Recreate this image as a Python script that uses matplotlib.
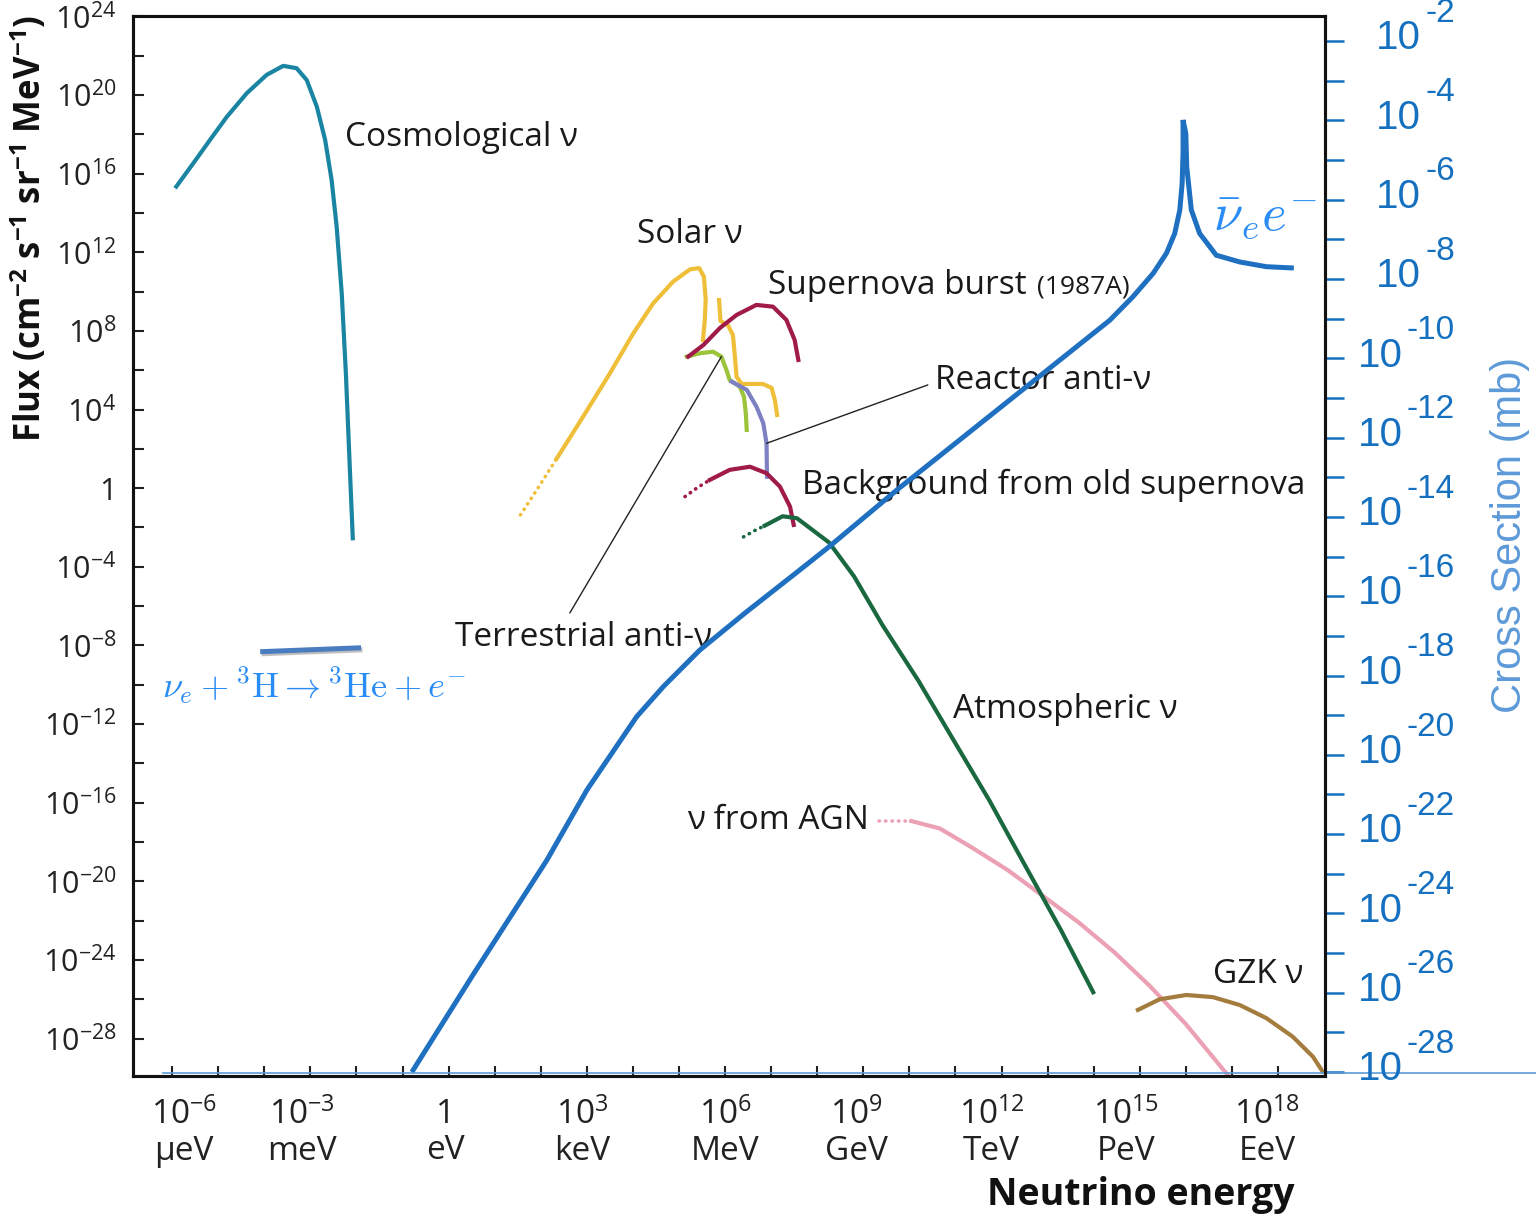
import numpy as np
import matplotlib.pyplot as plt
from matplotlib.ticker import NullLocator
from matplotlib.transforms import blended_transform_factory, ScaledTranslation
import matplotlib.patheffects as pe

plt.rcParams['font.family'] = ['Open Sans', 'DejaVu Sans']
plt.rcParams['mathtext.fontset'] = 'custom'
plt.rcParams['mathtext.rm'] = 'Open Sans'
plt.rcParams['mathtext.it'] = 'Open Sans:italic'
plt.rcParams['mathtext.bf'] = 'Open Sans:bold'

# energias en log10(eV), flujos en log10(cm^-2 s^-1 sr^-1 MeV^-1)
cosmo_logE = [-5.91, -5.54, -5.18, -4.81, -4.38, -3.95, -3.59, -3.30, -3.08, -2.86,
              -2.68, -2.54, -2.43, -2.32, -2.23, -2.14, -2.08]
cosmo_logF = [15.34, 16.53, 17.71, 18.90, 20.09, 21.02, 21.48, 21.36, 20.76, 19.40,
              17.71, 15.68, 13.30, 9.91, 5.84, 0.77, -2.55]

solar_dot_logE = [1.56, 1.94, 2.35]
solar_dot_logF = [-1.36, 0.01, 1.52]
solar_logE = [2.35, 2.92, 3.50, 4.01, 4.44, 4.87, 5.24, 5.44, 5.54, 5.58, 5.56, 5.52]
solar_logF = [1.52, 3.64, 5.84, 7.88, 9.40, 10.50, 11.13, 11.19, 10.76, 9.57, 8.56, 7.54]
solar_b8_logE = [5.87, 5.90, 6.06, 6.17, 6.21, 6.25, 6.36, 6.82, 7.01, 7.08, 7.13]
solar_b8_logF = [9.57, 8.50, 8.30, 7.79, 6.78, 5.66, 5.30, 5.30, 5.10, 4.49, 3.72]

sn_logE = [5.20, 5.53, 5.89, 6.25, 6.68, 7.04, 7.33, 7.51, 7.59]
sn_logF = [6.69, 7.28, 8.15, 8.81, 9.32, 9.23, 8.56, 7.54, 6.52]

terr_logE = [5.17, 5.45, 5.74, 5.92, 6.03, 6.10, 6.32, 6.41, 6.45, 6.47]
terr_logF = [6.69, 6.86, 6.94, 6.69, 6.01, 5.50, 5.16, 4.65, 3.81, 2.96]

reac_logE = [6.14, 6.47, 6.68, 6.83, 6.90, 6.91]
reac_logF = [5.42, 5.00, 4.15, 3.30, 2.28, 0.58]

oldsn_dot_logE = [5.13, 5.39, 5.67]
oldsn_dot_logF = [-0.43, 0.01, 0.42]
oldsn_logE = [5.67, 6.10, 6.54, 6.90, 7.19, 7.41, 7.49]
oldsn_logF = [0.42, 0.93, 1.09, 0.76, 0.08, -0.94, -1.87]

atm_dot_logE = [6.40, 6.65, 6.86]
atm_dot_logF = [-2.48, -2.15, -1.91]
atm_logE = [6.86, 7.25, 7.56, 8.26, 8.80, 9.42, 10.20, 10.97, 11.74, 12.52, 13.29, 13.99]
atm_logF = [-1.91, -1.43, -1.53, -2.77, -4.49, -6.98, -9.81, -12.86, -15.90, -19.23,
            -22.48, -25.64]

agn_dot_logE = [9.34, 9.68, 10.04]
agn_dot_logF = [-16.93, -16.93, -16.93]
agn_logE = [10.04, 10.66, 11.35, 12.13, 12.91, 13.68, 14.46, 15.23, 16.00, 16.94]
agn_logF = [-16.93, -17.31, -18.27, -19.42, -20.76, -22.10, -23.63, -25.35, -27.26, -29.94]

gzk_logE = [14.96, 15.43, 16.01, 16.59, 17.17, 17.75, 18.32, 18.76, 18.97]
gzk_logF = [-26.54, -26.00, -25.78, -25.89, -26.29, -26.96, -27.90, -28.92, -29.68]

# seccion eficaz en log10(mb)
xs_logE = [-0.77, 0.55, 2.13, 3.00, 4.08, 4.66, 5.45, 6.47, 7.62, 8.26, 9.73, 14.35,
           14.85, 15.29, 15.58, 15.76, 15.87, 15.92, 15.94, 15.94, 16.00, 16.02, 16.12,
           16.30, 16.66, 17.17, 17.75, 18.29]
xs_logS = [-27.95, -25.51, -22.66, -20.89, -19.04, -18.28, -17.36, -16.39, -15.34,
           -14.75, -13.32, -9.04, -8.45, -7.86, -7.35, -6.85, -6.26, -5.59, -4.83,
           -3.99, -4.33, -5.17, -6.26, -6.85, -7.40, -7.57, -7.69, -7.72]
tritium_logE = [-4.09, -1.90]
tritium_logS = [-17.40, -17.30]

x_tick_exp = list(range(-6, 19))
x_label_exp = [-6, -3, 0, 3, 6, 9, 12, 15, 18]
x_units = ['μeV', 'meV', 'eV', 'keV', 'MeV', 'GeV', 'TeV', 'PeV', 'EeV']
y_tick_exp = list(range(-28, 25, 2))
xs_tick_exp = list(range(-28, -1))
xs_label_exp = list(range(-2, -29, -2))


def p10(v):
    return np.power(10.0, v)


fig = plt.figure(figsize=(15.36, 12.18), dpi=100)
ax = fig.add_axes([0.0866, 0.1166, 0.7760, 0.8705])
ax.set_xscale('log')
ax.set_yscale('log')
ax.set_xlim(p10(-6.85), p10(19.02))
ax.set_ylim(p10(-29.9), p10(24.03))

lw = 3.0
dots = dict(ls=(0, (0.1, 1.7)), lw=2.6, dash_capstyle='round')

ax.plot(p10(cosmo_logE), p10(cosmo_logF), color='#1a85a2', lw=lw)
ax.plot(p10(solar_dot_logE), p10(solar_dot_logF), color='#efbf3a', **dots)
ax.plot(p10(solar_logE), p10(solar_logF), color='#efbf3a', lw=lw)
ax.plot(p10(solar_b8_logE), p10(solar_b8_logF), color='#efbf3a', lw=lw)
ax.plot(p10(terr_logE), p10(terr_logF), color='#9bc43a', lw=lw)
ax.plot(p10(sn_logE), p10(sn_logF), color='#a01a4a', lw=lw)
ax.plot(p10(reac_logE), p10(reac_logF), color='#7d80c2', lw=lw)
ax.plot(p10(oldsn_dot_logE), p10(oldsn_dot_logF), color='#a01a4a', **dots)
ax.plot(p10(oldsn_logE), p10(oldsn_logF), color='#a01a4a', lw=lw)
ax.plot(p10(agn_dot_logE), p10(agn_dot_logF), color='#eca0b4', **dots)
ax.plot(p10(agn_logE), p10(agn_logF), color='#eca0b4', lw=lw)
ax.plot(p10(atm_dot_logE), p10(atm_dot_logF), color='#1a6840', **dots)
ax.plot(p10(atm_logE), p10(atm_logF), color='#1a6840', lw=lw)
ax.plot(p10(gzk_logE), p10(gzk_logF), color='#a47d3e', lw=lw)

# lineas de referencia hacia las curvas de antineutrinos
ax.annotate('', xy=(p10(reac_logE[4]), p10(reac_logF[4])), xytext=(p10(10.40), p10(5.25)),
            arrowprops=dict(arrowstyle='-', color='#222222', lw=1.0, shrinkA=0, shrinkB=0))
ax.annotate('', xy=(p10(terr_logE[3]), p10(terr_logF[3])), xytext=(p10(2.63), p10(-6.35)),
            arrowprops=dict(arrowstyle='-', color='#222222', lw=1.0, shrinkA=0, shrinkB=0))

labels = [
    (0.1779, 0.8847, 'Cosmological ν', 24),
    (0.4228, 0.7932, 'Solar ν', 24),
    (0.5327, 0.7460, 'Supernova burst', 24),
    (0.7584, 0.7441, '(1987A)', 19),
    (0.6728, 0.6564, 'Reactor anti-ν', 24),
    (0.5612, 0.5574, 'Background from old supernova', 24),
    (0.2701, 0.4131, 'Terrestrial anti-ν', 24),
    (0.6879, 0.3452, 'Atmospheric ν', 24),
    (0.4648, 0.2414, 'ν from AGN', 24),
    (0.9060, 0.0953, 'GZK ν', 24),
]
for lx, ly, txt, fs in labels:
    ax.text(lx, ly, txt, transform=ax.transAxes, ha='left', va='center',
            fontsize=fs, color='#1a1a1a')

ax.set_xticks([p10(e) for e in x_tick_exp])
ax.set_xticklabels([('1' if e == 0 else '10$^{%d}$' % e) + '\n' + x_units[x_label_exp.index(e)]
                    if e in x_label_exp else '' for e in x_tick_exp])
ax.set_yticks([p10(e) for e in y_tick_exp])
ax.set_yticklabels([('1' if e == 0 else '10$^{%d}$' % e) if e % 4 == 0 else ''
                    for e in y_tick_exp])
ax.xaxis.set_minor_locator(NullLocator())
ax.yaxis.set_minor_locator(NullLocator())
ax.tick_params(axis='x', direction='in', length=7.5, width=1.5, pad=16,
               labelsize=24, colors='#222222')
ax.tick_params(axis='y', direction='in', length=8, width=1.5, pad=12,
               labelsize=22, colors='#222222')
# pequeños desplazamientos horizontales de las etiquetas de energia (px)
x_label_shift = [12, -8, -3, -5, 0, -7, -10, -14, -11]
for e, lab in zip(x_tick_exp, ax.get_xticklabels()):
    lab.set_linespacing(1.12)
    if e in x_label_exp:
        dx = x_label_shift[x_label_exp.index(e)] / fig.dpi
        lab.set_transform(lab.get_transform() + ScaledTranslation(dx, 0, fig.dpi_scale_trans))
for sp in ax.spines.values():
    sp.set_linewidth(2.2)
    sp.set_color('#111111')

# eje derecho: seccion eficaz
ax2 = ax.twinx()
ax2.set_yscale('log')
ax2.set_ylim(p10(-28.1), p10(-1.36))
for sp in ax2.spines.values():
    sp.set_linewidth(2.2)
    sp.set_color('#111111')
ax2.set_yticks([p10(e) for e in xs_tick_exp])
ax2.set_yticklabels(['' for e in xs_tick_exp])
ax2.yaxis.set_minor_locator(NullLocator())
ax2.tick_params(axis='y', direction='out', length=14, width=1.8, colors='#1570c0')

blue = '#1f70c1'
ax2.plot(p10(xs_logE), p10(xs_logS), color=blue, lw=3.6, solid_joinstyle='miter')
ax2.plot(p10(tritium_logE), p10(tritium_logS), color='#4a7cc0', lw=3.6,
         solid_capstyle='butt',
         path_effects=[pe.SimpleLineShadow(offset=(1, -1.5), alpha=0.25), pe.Normal()])

ax2.text(0.0243, 0.3678, r'$\nu_e + {}^3\mathrm{H} \rightarrow {}^3\mathrm{He} + e^{-}$',
         transform=ax2.transAxes, ha='left', va='center', fontsize=26,
         color='#2a8cf5', math_fontfamily='cm')
ax2.text(0.9060, 0.8111, r'$\bar{\nu}_e e^{-}$', transform=ax2.transAxes,
         ha='left', va='center', fontsize=38, color='#2a8cf5', math_fontfamily='cm')

tick_tr = blended_transform_factory(ax2.transAxes, ax2.transData)
for e in xs_label_exp:
    ex = ax2.annotate('%d' % e, xy=(1.109, p10(e)), xycoords=tick_tr,
                      xytext=(0, 20), textcoords='offset points', ha='right', va='center',
                      fontsize=24, color='#1570c0', family='Liberation Sans')
    ax2.annotate('10', xy=(0, 0.5), xycoords=ex, xytext=(-3, -18),
                 textcoords='offset points', ha='right', va='center',
                 fontsize=29, color='#1570c0', family='Liberation Sans')

# linea fina azul a lo largo del eje inferior
ax2.plot([0.025, 1.18], [0.003, 0.003], transform=ax2.transAxes, color='#5b9bd5',
         lw=1.2, clip_on=False)

fig.text(30 / 1536, 1 - 228 / 1218,
         r'Flux (cm$^{\mathbf{-2}}$ s$^{\mathbf{-1}}$ sr$^{\mathbf{-1}}$ MeV$^{\mathbf{-1}}$)',
         rotation=90, ha='center', va='center', fontsize=25, fontweight='bold',
         color='#111111')
fig.text(1295 / 1536, 1 - 1195 / 1218, 'Neutrino energy', ha='right', va='center',
         fontsize=27, fontweight='bold', color='#111111')
fig.text(1510 / 1536, 1 - 535 / 1218, 'Cross Section (mb)', rotation=90, ha='center',
         va='center', fontsize=30, color='#5d9ad8', family='Liberation Sans')

fig.savefig('out.png', dpi=100)
